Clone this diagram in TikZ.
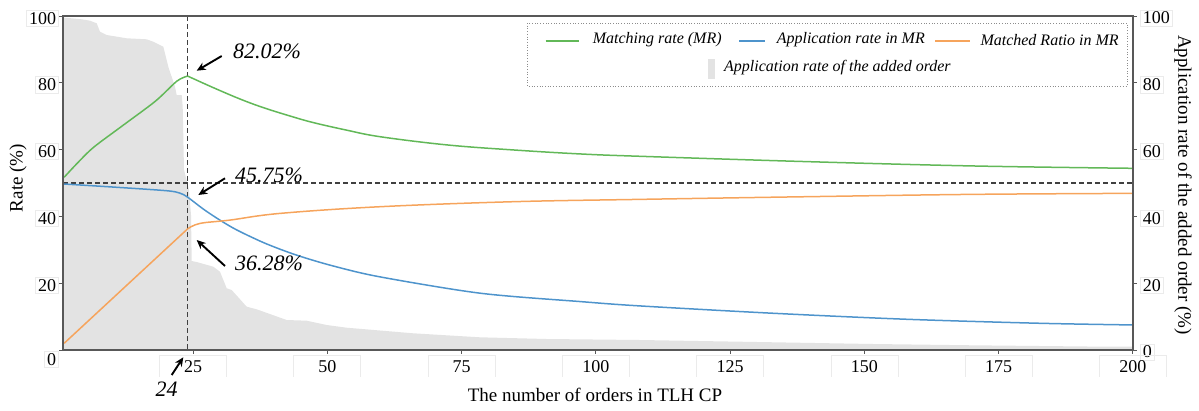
\documentclass[tikz,border=0pt]{standalone}
\usepackage{fontspec}
\setmainfont{Liberation Serif}
\usetikzlibrary{arrows.meta}
\definecolor{mrgreen}{RGB}{98,184,88}
\definecolor{mrblue}{RGB}{78,148,204}
\definecolor{mrorange}{RGB}{246,164,92}
\definecolor{areagray}{RGB}{227,227,227}
\definecolor{axisgray}{RGB}{88,88,88}
\definecolor{dashgray}{RGB}{64,64,64}
\begin{document}
\begin{tikzpicture}[x=1pt,y=-1pt,
  ticklab/.style={font=\fontsize{18}{20}\selectfont, inner xsep=2.5pt, inner ysep=2pt, draw=black!8, line width=0.6pt},
  xticklab/.style={font=\fontsize{18}{20}\selectfont, inner sep=0pt},
  xtickbox/.style={draw=black!8, line width=0.6pt},
  axtitle/.style={font=\fontsize{19}{22}\selectfont, inner sep=0pt},
  annlab/.style={font=\fontsize{22}{24}\selectfont\itshape, inner sep=0pt},
  leglab/.style={font=\fontsize{16}{18}\selectfont\itshape, inner sep=0pt, anchor=west},
  annarrow/.style={-{Stealth[length=9pt,width=8pt]}, line width=1.9pt, black},
  curve/.style={line width=1.5pt, line join=round},
  refline/.style={dashgray, line width=1.5pt, dash pattern=on 5pt off 3pt},
  tickmark/.style={axisgray, line width=1pt}
]
\useasboundingbox (0,0) rectangle (1199,410);

% grey area (application rate of the added order)
\fill[areagray] (63,350) -- (63,17.5) -- (81.7,19.3) -- (90,20.7) -- (96.7,23.3) -- (100,31.7)
  -- (106.7,35) -- (126.7,38.3) -- (146.7,39.3) -- (153.3,41.7) -- (163.3,46.7) -- (168.3,66.7)
  -- (175,86.7) -- (176.7,95) -- (181.7,95) -- (182.7,106.7) -- (184,170) -- (189,190)
  -- (191,215) -- (191.7,261) -- (196.7,262) -- (213.3,266.7) -- (220,271.7) -- (226.7,288.3)
  -- (231.7,290) -- (246.7,306.7) -- (256.7,309.3) -- (286.7,320) -- (306.7,320.7)
  -- (326.7,325) -- (346.7,327.7) -- (413.3,333.3) -- (480,337.3) -- (546.7,339)
  -- (640,340) -- (740,341.7) -- (873.3,344) -- (973.3,345.3) -- (1106.7,346.7)
  -- (1133,346.7) -- (1133,350) -- cycle;

% reference dashed lines
\coordinate (vtop) at (187.6,16);
\coordinate (vbot) at (187.6,350);
\coordinate (hleft) at (63,183);
\coordinate (hright) at (1133,183);
\draw[refline] (vtop) -- (vbot);
\draw[refline] (hleft) -- (hright);

% data curves
\begin{scope}[shift={(58.73,350)}, x=5.371pt, y=3.34pt]
  \draw[curve, mrgreen] plot[smooth, tension=0.5] coordinates {(1,51.7) (3.5,56) (6.5,60.7) (12,67.3) (18,74.5) (22,80.5) (24,82.02)};
  \draw[curve, mrgreen] plot[smooth, tension=0.6] coordinates {(24,82.02) (28.72,78.59) (33.75,75.15) (38.03,72.6) (43.06,70.06) (47.34,68.11) (53.48,65.87) (59.82,63.86) (72.3,61.4) (84.6,59.9) (97.1,58.7) (108.2,58.0) (139.3,56.4) (170.3,55.1) (200,54.4)};
  \draw[curve, mrblue] plot[smooth, tension=0.5] coordinates {(1,49.7) (10,48.8) (20,47.7) (22.5,47) (24,45.75) (27,42.1) (30,38.9) (33.2,35.9) (38.5,31.9) (44.3,28.4) (51,25.2) (59.8,21.9) (78.5,17) (97.1,14.5) (108.2,13.2) (133,11) (157.9,9.2) (182.7,8) (200,7.5)};
  \draw[curve, mrorange] (1,2.0) -- (24,36.28);
  \draw[curve, mrorange] plot[smooth, tension=0.6] coordinates {(24,36.28) (26.3,37.9) (31.9,38.9) (41.2,40.9) (59.8,42.9) (84.6,44.4) (108.2,45.1) (139.3,45.9) (170.3,46.6) (200,46.9)};
\end{scope}

% frame
\draw[axisgray, line width=1.2pt] (63,16) rectangle (1133,350);

% left ticks and labels
\foreach \v/\dy in {0/9.5,20/2,40/2,60/2,80/2,100/2.5} {
  \pgfmathsetmacro{\py}{350-\v*3.34}
  \draw[tickmark] (59,\py) -- (63,\py);
  \node[ticklab, anchor=east] (yl\v) at (59,\py+\dy) {\v};
}
% right ticks and labels
\foreach \v in {0,20,40,60,80,100} {
  \pgfmathsetmacro{\py}{350-\v*3.34}
  \draw[tickmark] (1133,\py) -- (1137,\py);
  \node[ticklab, anchor=west] (yr\v) at (1140,\py+2) {\v};
}
% bottom ticks and labels
\foreach \v in {25,50,75,100,125,150,175,200} {
  \pgfmathsetmacro{\px}{58.73+\v*5.371}
  \draw[tickmark] (\px,350) -- (\px,354);
  \draw[xtickbox] (\px-33.5,377) -- (\px-33.5,355) -- (\px+33.5,355) -- (\px+33.5,377);
  \node[xticklab] (xl\v) at (\px,366.5) {\v};
}

% axis titles
\node[axtitle, rotate=90] (ytitle) at (18,178) {Rate (\%)};
\node[axtitle, rotate=-90] (y2title) at (1183,185) {Application rate of the added order (\%)};
\node[axtitle] (xtitle) at (595,394.5) {The number of orders in TLH CP};

% annotations
\node[annlab, anchor=west] (l82) at (233,51) {82.02\%};
\node[annlab, anchor=west] (l45) at (235,175) {45.75\%};
\node[annlab, anchor=west] (l36) at (235,263) {36.28\%};
\node[annlab] (l24) at (166.7,389) {24};
\coordinate (a82s) at (221.7,56);   \coordinate (a82e) at (196.7,70.7);
\coordinate (a45s) at (225,178.3);  \coordinate (a45e) at (198.3,195);
\coordinate (a36s) at (225,266);    \coordinate (a36e) at (196.7,240);
\coordinate (a24s) at (171.7,375);  \coordinate (a24e) at (183.3,357.3);
\draw[annarrow] (a82s) -- (a82e);
\draw[annarrow] (a45s) -- (a45e);
\draw[annarrow] (a36s) -- (a36e);
\draw[annarrow] (a24s) -- (a24e);

% legend
\draw[black!45, line width=0.7pt, dotted, fill=white] (527,23) rectangle (1127,86);
\coordinate (lg1a) at (545.6,41); \coordinate (lg1b) at (578.9,41);
\coordinate (lg2a) at (739.4,41); \coordinate (lg2b) at (764.8,41);
\coordinate (lg3a) at (935,41);   \coordinate (lg3b) at (970.4,41);
\draw[curve, mrgreen] (lg1a) -- (lg1b);
\draw[curve, mrblue] (lg2a) -- (lg2b);
\draw[curve, mrorange] (lg3a) -- (lg3b);
\node[leglab] (lt1) at (592.6,40) {Matching rate (MR)};
\node[leglab] (lt2) at (776.6,40) {Application rate in MR};
\node[leglab] (lt3) at (980.3,40) {Matched Ratio in MR};
\fill[areagray] (708,59) rectangle (715,79);
\node[leglab] (lt4) at (724,68) {Application rate of the added order};
\end{tikzpicture}
\end{document}
